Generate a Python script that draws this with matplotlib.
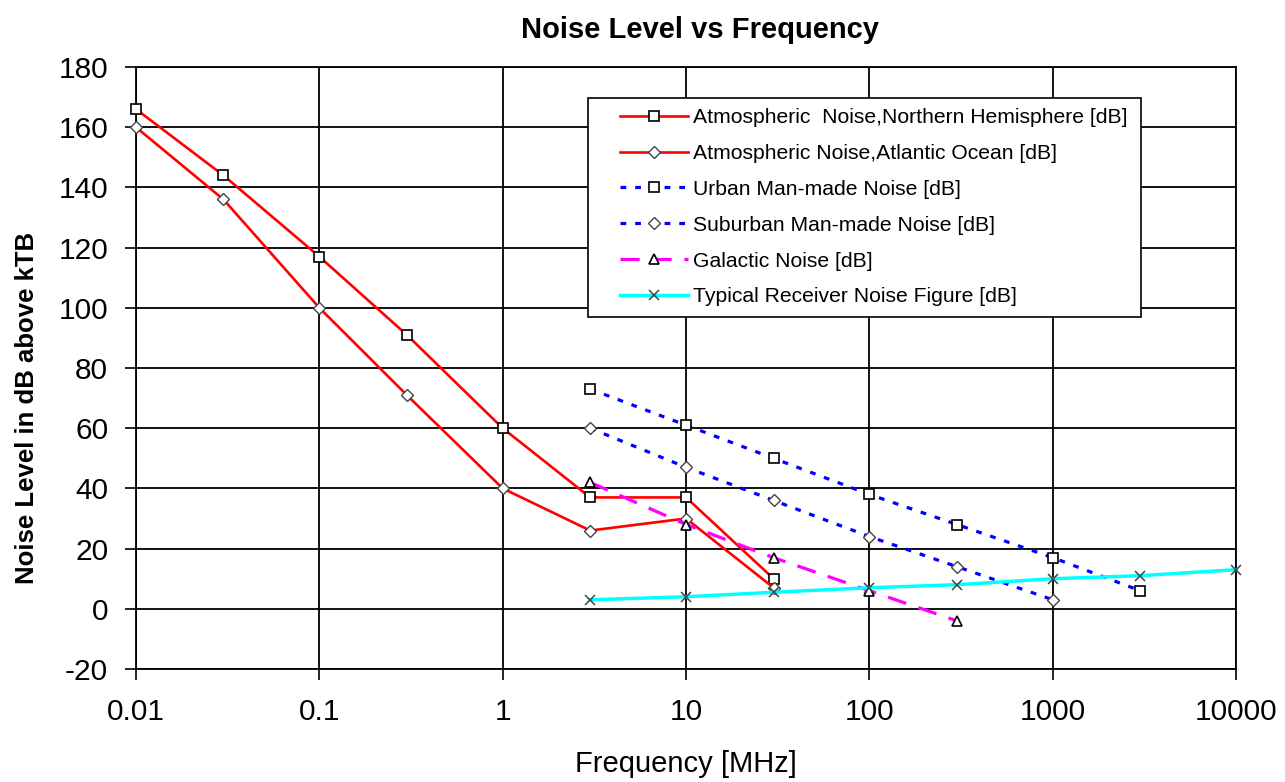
import matplotlib.pyplot as plt
from matplotlib.patches import Rectangle
from matplotlib.ticker import FixedLocator, NullLocator

plt.rcParams['font.family'] = ['Liberation Sans', 'DejaVu Sans']
plt.rcParams['axes.unicode_minus'] = False

freq_atm = [0.01, 0.03, 0.1, 0.3, 1, 3, 10, 30]
north_hemi = [166, 144, 117, 91, 60, 37, 37, 10]
atlantic = [160, 136, 100, 71, 40, 26, 30, 7]

freq_urban = [3, 10, 30, 100, 300, 1000, 3000]
urban = [73, 61, 50, 38, 28, 17, 6]

freq_suburban = [3, 10, 30, 100, 300, 1000]
suburban = [60, 47, 36, 24, 14, 3]

freq_gal = [3, 10, 30, 100, 300]
galactic = [42, 28, 17, 6, -4]

freq_rx = [3, 10, 30, 100, 300, 1000, 3000, 10000]
receiver = [3, 4, 5.5, 7, 8, 10, 11, 13]

xticks = [0.01, 0.1, 1, 10, 100, 1000, 10000]
xticklabels = ['0.01', '0.1', '1', '10', '100', '1000', '10000']

fig = plt.figure(figsize=(12.85, 7.82), dpi=100)
ax = fig.add_axes([0.1058, 0.1445, 0.8562, 0.7698])

sq = dict(marker='s', ms=6.5, markerfacecolor='white', markeredgecolor='black',
          markeredgewidth=1.2, clip_on=False)
di = dict(marker='D', ms=6, markerfacecolor='white', markeredgecolor='#444444',
          markeredgewidth=1.0, clip_on=False)

ax.plot(freq_atm, north_hemi, color='red', lw=1.9, zorder=3,
        label='Atmospheric  Noise,Northern Hemisphere [dB]', **sq)
ax.plot(freq_atm, atlantic, color='red', lw=1.9, zorder=3,
        label='Atmospheric Noise,Atlantic Ocean [dB]', **di)
ax.plot(freq_urban, urban, color='blue', lw=2.3, ls=(0, (1.8, 2.8)), zorder=3,
        label='Urban Man-made Noise [dB]', **sq)
ax.plot(freq_suburban, suburban, color='blue', lw=2.3, ls=(0, (1.8, 2.8)), zorder=3,
        label='Suburban Man-made Noise [dB]', **di)
ax.plot(freq_gal, galactic, color='magenta', lw=2.3, ls=(0, (6, 4)), zorder=3,
        marker='^', ms=6.5, markerfacecolor='white', markeredgecolor='black',
        markeredgewidth=1.2, label='Galactic Noise [dB]')
ax.plot(freq_rx, receiver, color='cyan', lw=2.5, zorder=3, marker='x', ms=7,
        markeredgecolor='#444444', markeredgewidth=1.1, clip_on=False,
        label='Typical Receiver Noise Figure [dB]')

ax.set_xscale('log')
ax.set_xlim(0.01, 10000)
ax.set_ylim(-20, 180)
ax.xaxis.set_major_locator(FixedLocator(xticks))
ax.xaxis.set_minor_locator(NullLocator())
ax.set_xticklabels(xticklabels)
ax.set_yticks(range(-20, 181, 20))
ax.tick_params(labelsize=21.5, length=8, width=1.2, direction='out', colors='black')
ax.tick_params(axis='x', pad=13)
ax.tick_params(axis='y', pad=12)
ax.grid(True, color='black', lw=1.3)
for s in ax.spines.values():
    s.set_color('black')
    s.set_linewidth(1.3)

ax.set_title('Noise Level vs Frequency', fontsize=21, fontweight='bold', pad=21,
             x=0.513)
ax.set_xlabel('Frequency [MHz]', fontsize=21, labelpad=17)
ax.set_ylabel('Noise Level in dB above kTB', fontsize=18.5, fontweight='bold', labelpad=14)
ax.yaxis.label.set_y(0.434)

leg = ax.legend(loc='upper left', bbox_to_anchor=(620 / 1285, 1 - 108 / 782),
                bbox_transform=fig.transFigure, fontsize=15.2, frameon=False,
                handlelength=3.2, handletextpad=0.24, borderpad=0,
                borderaxespad=0, labelspacing=0.8)
leg.set_zorder(5)
box = Rectangle((588 / 1285, 1 - 317 / 782), 553 / 1285, 219 / 782,
                transform=fig.transFigure, facecolor='white', edgecolor='black',
                lw=1.2, zorder=4)
ax.add_artist(box)
box.set_clip_on(False)

fig.savefig('out.png', dpi=100)
